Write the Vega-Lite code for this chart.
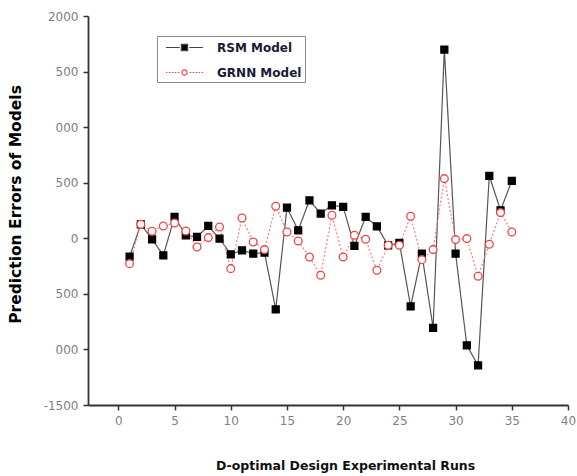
{
  "$schema": "https://vega.github.io/schema/vega-lite/v6.json",
  "width": 480,
  "height": 389,
  "autosize": {"type": "none"},
  "padding": {"left": 88, "top": 16, "right": 9, "bottom": 71},
  "background": "white",
  "config": {"view": {"stroke": null}},
  "data": {
    "values": [
      {"run": 1, "model": "RSM Model", "error": -165},
      {"run": 2, "model": "RSM Model", "error": 126},
      {"run": 3, "model": "RSM Model", "error": -9},
      {"run": 4, "model": "RSM Model", "error": -153},
      {"run": 5, "model": "RSM Model", "error": 192},
      {"run": 6, "model": "RSM Model", "error": 27},
      {"run": 7, "model": "RSM Model", "error": 12},
      {"run": 8, "model": "RSM Model", "error": 111},
      {"run": 9, "model": "RSM Model", "error": -3},
      {"run": 10, "model": "RSM Model", "error": -144},
      {"run": 11, "model": "RSM Model", "error": -108},
      {"run": 12, "model": "RSM Model", "error": -138},
      {"run": 13, "model": "RSM Model", "error": -129},
      {"run": 14, "model": "RSM Model", "error": -639},
      {"run": 15, "model": "RSM Model", "error": 276},
      {"run": 16, "model": "RSM Model", "error": 72},
      {"run": 17, "model": "RSM Model", "error": 342},
      {"run": 18, "model": "RSM Model", "error": 222},
      {"run": 19, "model": "RSM Model", "error": 297},
      {"run": 20, "model": "RSM Model", "error": 282},
      {"run": 21, "model": "RSM Model", "error": -69},
      {"run": 22, "model": "RSM Model", "error": 192},
      {"run": 23, "model": "RSM Model", "error": 108},
      {"run": 24, "model": "RSM Model", "error": -63},
      {"run": 25, "model": "RSM Model", "error": -42},
      {"run": 26, "model": "RSM Model", "error": -612},
      {"run": 27, "model": "RSM Model", "error": -138},
      {"run": 28, "model": "RSM Model", "error": -807},
      {"run": 29, "model": "RSM Model", "error": 1698},
      {"run": 30, "model": "RSM Model", "error": -138},
      {"run": 31, "model": "RSM Model", "error": -963},
      {"run": 32, "model": "RSM Model", "error": -1143},
      {"run": 33, "model": "RSM Model", "error": 561},
      {"run": 34, "model": "RSM Model", "error": 252},
      {"run": 35, "model": "RSM Model", "error": 516},
      {"run": 1, "model": "GRNN Model", "error": -228},
      {"run": 2, "model": "GRNN Model", "error": 126},
      {"run": 3, "model": "GRNN Model", "error": 63},
      {"run": 4, "model": "GRNN Model", "error": 111},
      {"run": 5, "model": "GRNN Model", "error": 138},
      {"run": 6, "model": "GRNN Model", "error": 66},
      {"run": 7, "model": "GRNN Model", "error": -78},
      {"run": 8, "model": "GRNN Model", "error": 6},
      {"run": 9, "model": "GRNN Model", "error": 102},
      {"run": 10, "model": "GRNN Model", "error": -273},
      {"run": 11, "model": "GRNN Model", "error": 183},
      {"run": 12, "model": "GRNN Model", "error": -33},
      {"run": 13, "model": "GRNN Model", "error": -102},
      {"run": 14, "model": "GRNN Model", "error": 288},
      {"run": 15, "model": "GRNN Model", "error": 57},
      {"run": 16, "model": "GRNN Model", "error": -24},
      {"run": 17, "model": "GRNN Model", "error": -168},
      {"run": 18, "model": "GRNN Model", "error": -333},
      {"run": 19, "model": "GRNN Model", "error": 207},
      {"run": 20, "model": "GRNN Model", "error": -168},
      {"run": 21, "model": "GRNN Model", "error": 27},
      {"run": 22, "model": "GRNN Model", "error": -9},
      {"run": 23, "model": "GRNN Model", "error": -288},
      {"run": 24, "model": "GRNN Model", "error": -63},
      {"run": 25, "model": "GRNN Model", "error": -63},
      {"run": 26, "model": "GRNN Model", "error": 198},
      {"run": 27, "model": "GRNN Model", "error": -192},
      {"run": 28, "model": "GRNN Model", "error": -102},
      {"run": 29, "model": "GRNN Model", "error": 537},
      {"run": 30, "model": "GRNN Model", "error": -12},
      {"run": 31, "model": "GRNN Model", "error": -3},
      {"run": 32, "model": "GRNN Model", "error": -342},
      {"run": 33, "model": "GRNN Model", "error": -54},
      {"run": 34, "model": "GRNN Model", "error": 231},
      {"run": 35, "model": "GRNN Model", "error": 57}
    ]
  },
  "layer": [
    {
      "mark": {"type": "line", "strokeWidth": 1.2},
      "encoding": {
        "x": {
          "field": "run", "type": "quantitative",
          "scale": {"domain": [-2.7, 40], "nice": false, "zero": false},
          "axis": {
            "values": [0, 2.5, 5, 7.5, 10, 12.5, 15, 17.5, 20, 22.5, 25, 27.5, 30, 32.5, 35, 37.5, 40],
            "labelExpr": "datum.value % 5 === 0 ? datum.label : ''",
            "format": "d",
            "grid": false,
            "domainColor": "#333333", "domainWidth": 1.8,
            "tickColor": "#333333", "tickWidth": 1.5,
            "tickSize": {"condition": {"test": "datum.value % 5 === 0", "value": 5}, "value": 2.5},
            "labelFont": "DejaVu Sans", "labelFontSize": 12, "labelColor": "#808080",
            "labelPadding": 5, "labelFlush": false, "labelOverlap": false,
            "title": "D-optimal Design Experimental Runs",
            "titleFont": "DejaVu Sans", "titleFontSize": 12.5, "titleFontWeight": "bold", "titleColor": "#111111",
            "titleX": 257, "titleY": 64, "titleAlign": "center", "titleAnchor": null, "titleBaseline": "alphabetic"
          }
        },
        "y": {
          "field": "error", "type": "quantitative",
          "scale": {"domain": [-1500, 2000], "nice": false, "zero": false},
          "axis": {
            "values": [-1500, -1250, -1000, -750, -500, -250, 0, 250, 500, 750, 1000, 1250, 1500, 1750, 2000],
            "labelExpr": "datum.value === 2000 ? '2000' : datum.value === 1500 ? '500' : datum.value === 1000 ? '000' : datum.value === 500 ? '500' : datum.value === 0 ? '0' : datum.value === -500 ? '500' : datum.value === -1000 ? '000' : datum.value === -1500 ? '-1500' : ''",
            "grid": false,
            "domainColor": "#333333", "domainWidth": 1.8,
            "tickColor": "#333333", "tickWidth": 1.5,
            "tickSize": {"condition": {"test": "datum.value % 500 === 0", "value": 5}, "value": 2.5},
            "labelFont": "DejaVu Sans", "labelFontSize": 12, "labelColor": "#808080",
            "labelPadding": 5, "labelFlush": false, "labelOverlap": false,
            "title": "Prediction Errors of Models",
            "titleFont": "DejaVu Sans", "titleFontSize": 15.5, "titleFontWeight": "bold", "titleColor": "#000000",
            "titleAngle": -90, "titleX": -73, "titleY": 188, "titleAlign": "center", "titleAnchor": null, "titleBaseline": "middle"
          }
        },
        "detail": {"field": "model", "type": "nominal"},
        "color": {"condition": {"test": "datum.model === 'RSM Model'", "value": "#555555"}, "value": "#ff7b7b"},
        "strokeDash": {"condition": {"test": "datum.model === 'RSM Model'", "value": [1, 0]}, "value": [2, 2]}
      }
    },
    {
      "mark": {"type": "point", "filled": true, "opacity": 1, "strokeWidth": 1.3},
      "encoding": {
        "x": {"field": "run", "type": "quantitative"},
        "y": {"field": "error", "type": "quantitative"},
        "shape": {"condition": {"test": "datum.model === 'RSM Model'", "value": "square"}, "value": "circle"},
        "fill": {"condition": {"test": "datum.model === 'RSM Model'", "value": "#000000"}, "value": "#ffffff"},
        "stroke": {"condition": {"test": "datum.model === 'RSM Model'", "value": "#000000"}, "value": "#f04444"},
        "size": {"condition": {"test": "datum.model === 'RSM Model'", "value": 48}, "value": 60}
      }
    },
    {
      "mark": {"type": "point", "filled": true, "opacity": 0, "strokeWidth": 1.2},
      "encoding": {
        "x": {"field": "run", "type": "quantitative"},
        "y": {"field": "error", "type": "quantitative"},
        "shape": {
          "field": "model", "type": "nominal",
          "scale": {
            "domain": ["RSM Model", "GRNN Model"],
            "range": [
              "M-2.5,0H-0.65M0.65,0H2.5M-0.42,-0.42H0.42V0.42H-0.42Z",
              "M-2.5,0H-2.3M-2.1,0H-1.9M-1.7,0H-1.5M-1.3,0H-1.1M-0.9,0H-0.7M0.7,0H0.9M1.1,0H1.3M1.5,0H1.7M1.9,0H2.1M2.3,0H2.5M0.35,0A0.35,0.35 0 1,1 -0.35,0A0.35,0.35 0 1,1 0.35,0Z"
            ]
          },
          "legend": {
            "title": null, "orient": "none", "legendX": 69, "legendY": 20,
            "symbolSize": 220, "symbolOffset": 16, "labelOffset": 24, "rowPadding": 10, "padding": 3,
            "symbolStrokeWidth": 1.2, "symbolOpacity": 1,
            "strokeColor": "#888888",
            "labelFont": "DejaVu Sans", "labelFontWeight": "bold", "labelFontSize": 12, "labelColor": "#1a1a33", "labelLimit": 300
          }
        },
        "fill": {
          "field": "model", "type": "nominal",
          "scale": {"domain": ["RSM Model", "GRNN Model"], "range": ["#000000", "#ffffff"]}
        },
        "stroke": {
          "field": "model", "type": "nominal",
          "scale": {"domain": ["RSM Model", "GRNN Model"], "range": ["#444444", "#f04444"]}
        }
      }
    }
  ]
}
